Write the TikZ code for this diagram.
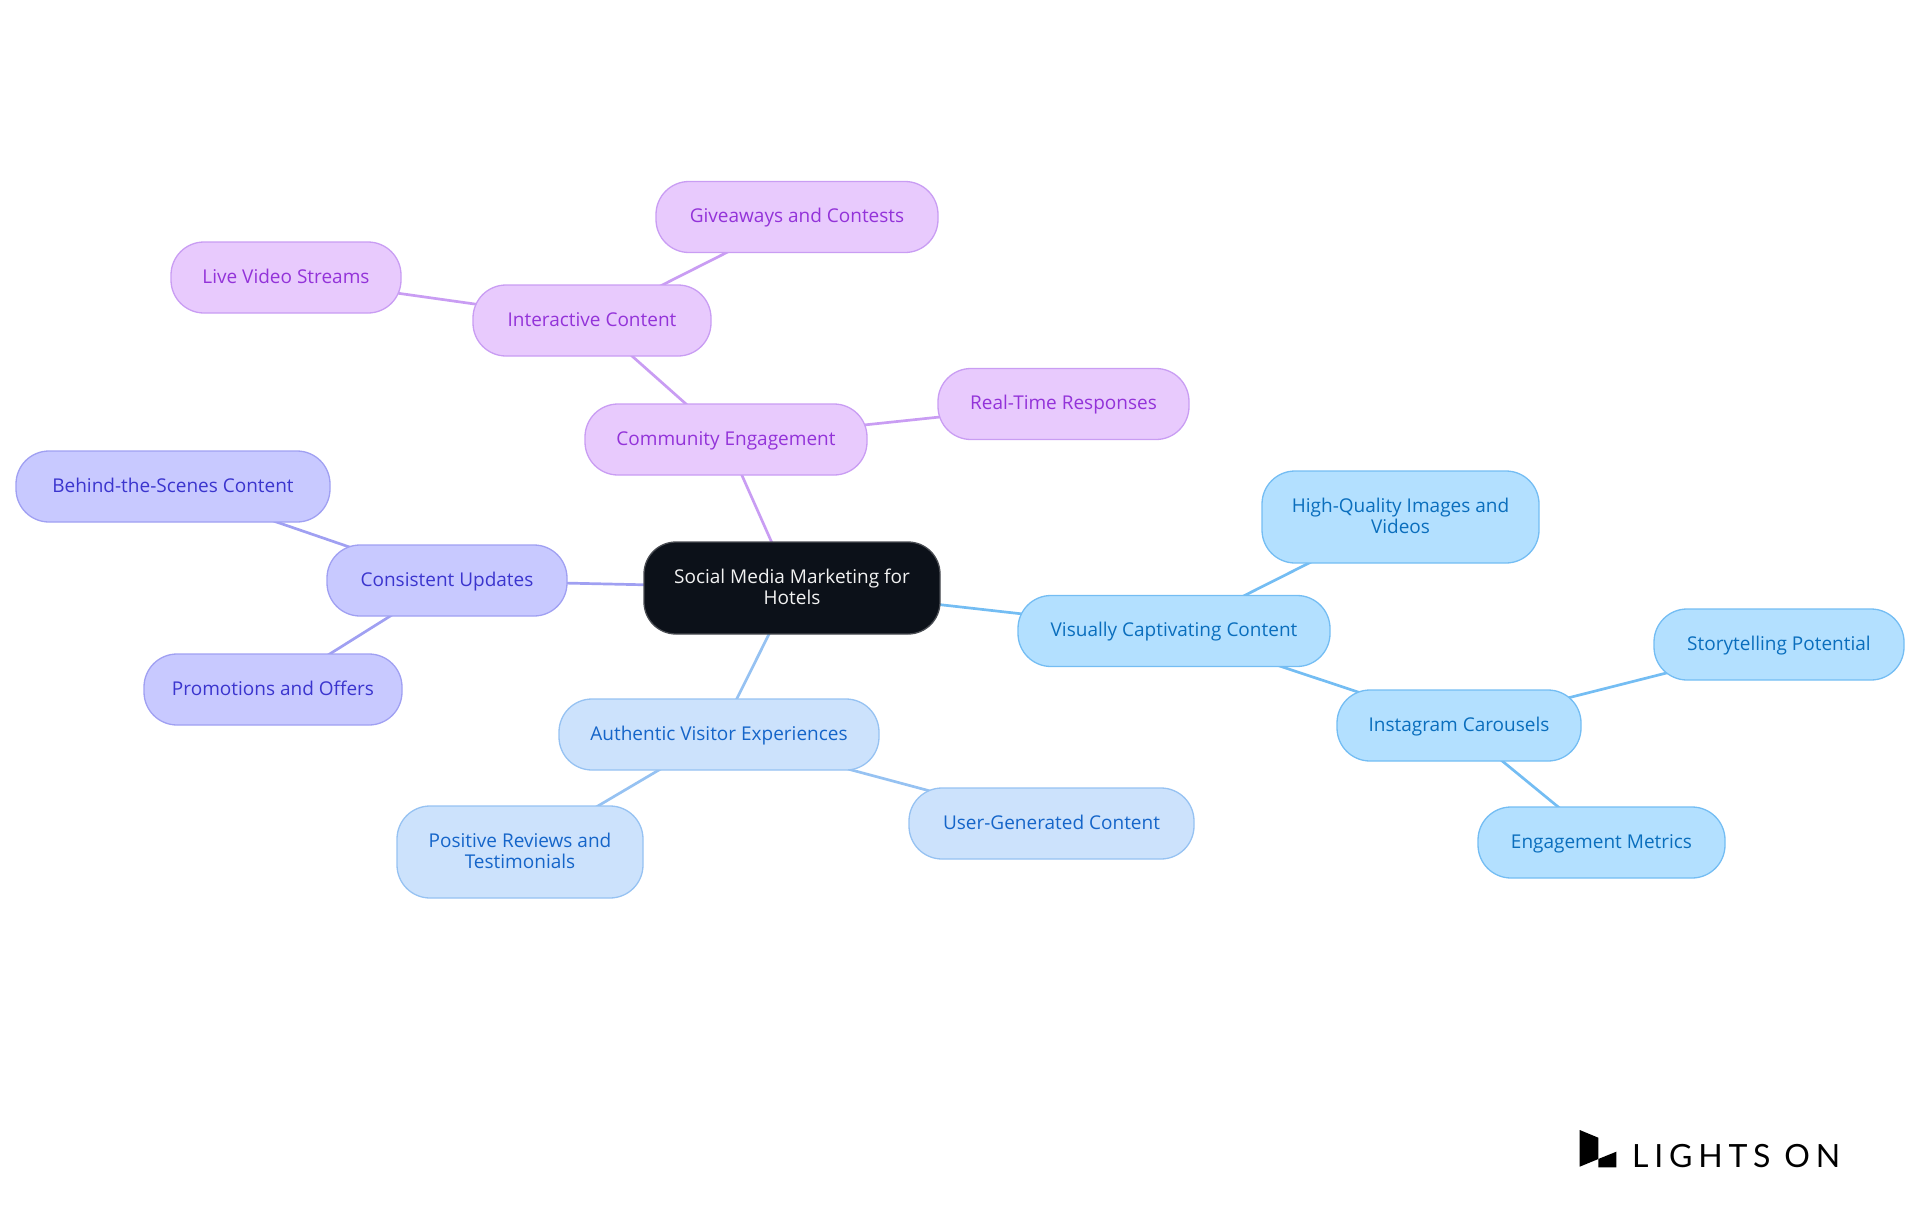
\documentclass[tikz,border=0pt]{standalone}
\usepackage{fontspec}
\setmainfont{Open Sans}
\newfontfamily\logofont[LetterSpace=18]{Lato}
\usepackage{tikz}
\usetikzlibrary{backgrounds}
\definecolor{rootfill}{HTML}{0C1119}
\definecolor{skyfill}{HTML}{B3E0FF}
\definecolor{skyline}{HTML}{74BDF3}
\definecolor{skytext}{HTML}{0A6EBD}
\definecolor{palefill}{HTML}{CCE2FC}
\definecolor{paleline}{HTML}{96C2F2}
\definecolor{paletext}{HTML}{1565C9}
\definecolor{indigofill}{HTML}{C8C9FF}
\definecolor{indigoline}{HTML}{A0A0F2}
\definecolor{indigotext}{HTML}{3B35CE}
\definecolor{violetfill}{HTML}{E8CAFD}
\definecolor{violetline}{HTML}{C99DF3}
\definecolor{violettext}{HTML}{9333D9}

\begin{document}
\begin{tikzpicture}[x=1pt,y=-1pt]
\tikzstyle{topic}=[rectangle,rounded corners=33pt,minimum height=71pt,inner sep=0pt,outer sep=0pt,line width=1.3pt,align=center,text height=15pt,text depth=4pt,font=\fontsize{19}{21}\selectfont]
\tikzstyle{twoline}=[minimum height=92pt,text height=36pt]
\tikzstyle{hotel}=[topic,twoline,fill=rootfill,draw=rootfill!75!white,text=white!95!black,rounded corners=32pt]
\tikzstyle{sky}=[topic,fill=skyfill,draw=skyline,text=skytext]
\tikzstyle{pale}=[topic,fill=palefill,draw=paleline,text=paletext]
\tikzstyle{indigo}=[topic,fill=indigofill,draw=indigoline,text=indigotext]
\tikzstyle{violet}=[topic,fill=violetfill,draw=violetline,text=violettext]
\tikzstyle{link}=[line width=2.7pt]
\useasboundingbox (0,0) rectangle (1920,1215);

\node[hotel,minimum width=296pt] (Root) at (792,588) {Social Media Marketing for\\Hotels};

\node[sky,minimum width=312pt] (Visual) at (1174,631) {Visually Captivating Content};
\node[sky,twoline,minimum width=277pt] (Quality) at (1400.5,517) {High-Quality Images and\\Videos};
\node[sky,minimum width=244pt] (Carousels) at (1459,725.5) {Instagram Carousels};
\node[sky,minimum width=250pt] (Story) at (1779,644.5) {Storytelling Potential};
\node[sky,minimum width=247pt] (Metrics) at (1601.5,842.5) {Engagement Metrics};

\node[pale,minimum width=320pt] (Visitor) at (719,734.5) {Authentic Visitor Experiences};
\node[pale,twoline,minimum width=246pt] (Reviews) at (520,852) {Positive Reviews and\\Testimonials};
\node[pale,minimum width=285pt] (Generated) at (1051.5,823.5) {User-Generated Content};

\node[indigo,minimum width=240pt] (Updates) at (447,580.5) {Consistent Updates};
\node[indigo,minimum width=314pt] (Scenes) at (173,486.5) {Behind-the-Scenes Content};
\node[indigo,minimum width=258pt] (Offers) at (273,689.5) {Promotions and Offers};

\node[violet,minimum width=282pt] (Community) at (726,439.5) {Community Engagement};
\node[violet,minimum width=238pt] (Interactive) at (592,320.5) {Interactive Content};
\node[violet,minimum width=282pt] (Contests) at (797,217) {Giveaways and Contests};
\node[violet,minimum width=230pt] (Streams) at (286,277.5) {Live Video Streams};
\node[violet,minimum width=251pt] (Responses) at (1063.5,404) {Real-Time Responses};

\begin{scope}[on background layer]
\draw[link,skyline] (Root.center) -- (Visual.center);
\draw[link,skyline] (Visual.center) -- (Quality.center);
\draw[link,skyline] (Visual.center) -- (Carousels.center);
\draw[link,skyline] (Carousels.center) -- (Story.center);
\draw[link,skyline] (Carousels.center) -- (Metrics.center);
\draw[link,paleline] (Root.center) -- (Visitor.center);
\draw[link,paleline] (Visitor.center) -- (Reviews.center);
\draw[link,paleline] (Visitor.center) -- (Generated.center);
\draw[link,indigoline] (Root.center) -- (Updates.center);
\draw[link,indigoline] (Updates.center) -- (Scenes.center);
\draw[link,indigoline] (Updates.center) -- (Offers.center);
\draw[link,violetline] (Root.center) -- (Community.center);
\draw[link,violetline] (Community.center) -- (Interactive.center);
\draw[link,violetline] (Community.center) -- (Responses.center);
\draw[link,violetline] (Interactive.center) -- (Contests.center);
\draw[link,violetline] (Interactive.center) -- (Streams.center);
\end{scope}

% logo
\fill[black] (1579.7,1130) -- (1598.3,1137.7) -- (1598.3,1159) -- (1579.7,1166.7) -- cycle;
\fill[black] (1598.3,1159) -- (1616.3,1151.7) -- (1616.3,1167.3) -- (1598.3,1167.3) -- cycle;
\node[anchor=west,inner sep=0pt,font=\logofont\fontsize{32}{32}\selectfont] (Logo) at (1632,1156) {LIGHTS ON};
\end{tikzpicture}
\end{document}
